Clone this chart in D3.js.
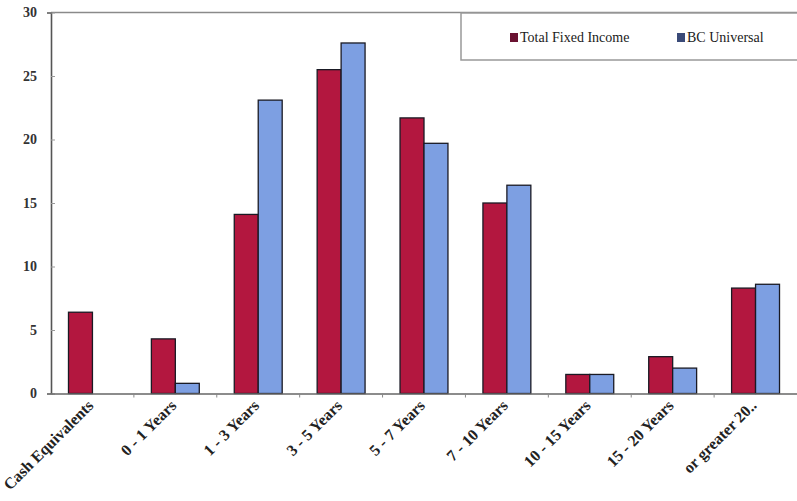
<!DOCTYPE html>
<html><head><meta charset="utf-8">
<script src="https://cdn.jsdelivr.net/npm/d3@7"></script>
<style>body{margin:0;background:#fff}svg{display:block}</style>
</head><body><svg id="c" width="797" height="501"></svg>
<script>
const categories = ["Cash Equivalents","0 - 1 Years","1 - 3 Years","3 - 5 Years","5 - 7 Years","7 - 10 Years","10 - 15 Years","15 - 20 Years","or greater 20.."];
const seriesNames = ["Total Fixed Income","BC Universal"];
const totalFixedIncome = [6.4, 4.3, 14.1, 25.5, 21.7, 15.0, 1.5, 2.9, 8.3];
const bcUniversal = [null, 0.8, 23.1, 27.6, 19.7, 16.4, 1.5, 2.0, 8.6];
const yTicks = [0, 5, 10, 15, 20, 25, 30];

const fills = ["#b3173f", "#7d9fe2"];
const legendFills = ["#6a1231", "#3a4a78"];
const font = "Liberation Serif, Tinos, Times New Roman, DejaVu Serif, serif";

const svg = d3.select("#c");
const L = 51, R = 797, T = 12.5, B = 393.5;

const x0 = d3.scaleBand().domain(categories).range([L, R]).padding(0);
const x1 = d3.scaleBand().domain(seriesNames).range([0, x0.bandwidth()]).paddingInner(0).paddingOuter(0.73);
const y = d3.scaleLinear().domain([0, 30]).range([B, T]);

// top line
svg.append("line").attr("x1", L).attr("x2", R).attr("y1", T).attr("y2", T)
  .attr("stroke", "#8a8a8a").attr("stroke-width", 1.5);

// bars
const data = categories.map((c, i) => ({c, vals: [totalFixedIncome[i], bcUniversal[i]]}));
const g = svg.append("g");
data.forEach(d => {
  d.vals.forEach((v, j) => {
    if (v == null) return;
    g.append("rect")
      .attr("x", x0(d.c) + x1(seriesNames[j]))
      .attr("y", y(v))
      .attr("width", x1.bandwidth())
      .attr("height", y(0) - y(v))
      .attr("fill", fills[j])
      .attr("stroke", "#1a1a24").attr("stroke-width", 1.3);
  });
});

// y axis
const yAxis = svg.append("g").attr("transform", `translate(${L},0)`)
  .call(d3.axisLeft(y).tickValues(yTicks).tickSize(4).tickPadding(10));
yAxis.select(".domain").attr("stroke", "#555").attr("stroke-width", 1.6);
yAxis.selectAll(".tick line").attr("stroke", "#999").attr("x2", 4);
yAxis.selectAll("text").style("font-family", font).attr("font-size", 14).attr("font-weight", "bold").attr("fill", "#333");

// x axis
const xAxis = svg.append("g").attr("transform", `translate(0,${B})`)
  .call(d3.axisBottom(x0).tickSize(0).tickSizeOuter(0));
xAxis.select(".domain").attr("stroke", "#666").attr("stroke-width", 1.4);
xAxis.selectAll("text")
  .style("font-family", font).attr("font-size", 16).attr("font-weight", "bold").attr("fill", "#222")
  .attr("text-anchor", "end")
  .attr("dy", 0)
  .attr("transform", "translate(2,13) rotate(-45)")
  .attr("y", 0).attr("x", 0);
// boundary ticks
categories.slice(1).forEach(c => {
  svg.append("line").attr("x1", x0(c)).attr("x2", x0(c)).attr("y1", B).attr("y2", B + 4)
    .attr("stroke", "#888").attr("stroke-width", 1);
});

// legend
const lg = svg.append("g");
lg.append("rect").attr("x", 461).attr("y", 13).attr("width", 345).attr("height", 47)
  .attr("fill", "#fff").attr("stroke", "#999").attr("stroke-width", 1.5);
const legX = [510, 677];
seriesNames.forEach((s, i) => {
  lg.append("rect").attr("x", legX[i]).attr("y", 33).attr("width", 8).attr("height", 9).attr("fill", legendFills[i]);
  lg.append("text").attr("x", legX[i] + 10).attr("y", 42).text(s)
    .style("font-family", font).attr("font-size", 14).attr("fill", "#1a1a1a");
});
</script></body></html>
